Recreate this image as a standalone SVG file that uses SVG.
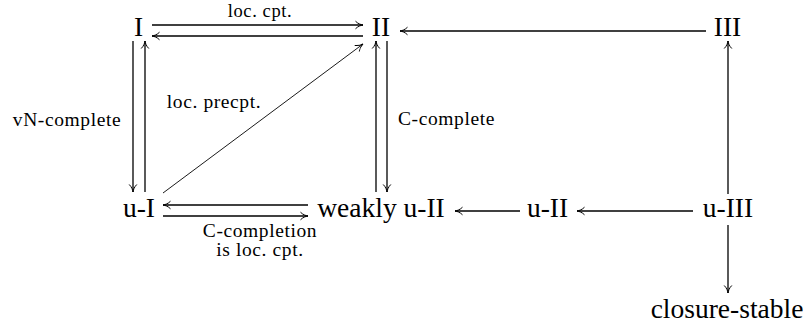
<svg xmlns="http://www.w3.org/2000/svg" width="809" height="329" viewBox="0 0 809 329">
<style>
text{font-family:"Liberation Serif","Times New Roman",serif;fill:#000}
.n{font-size:27.5px;text-anchor:middle}
.l{font-family:"Liberation Serif","Times New Roman",serif;font-size:19.5px;letter-spacing:0.6px;text-anchor:middle}
.e{stroke:#000;stroke-width:1.3;fill:none;marker-end:url(#ah)}
.d{stroke:#000;stroke-width:0.9;fill:none;marker-end:url(#ah)}
</style>
<defs>
<marker id="ah" markerUnits="userSpaceOnUse" markerWidth="14" markerHeight="12" viewBox="-9 -6 10 12" refX="0" refY="0" orient="auto">
<path d="M-7.5,-3.8 C-5,-1.2 -2,-0.3 0,0 C-2,0.3 -5,1.2 -7.5,3.8" fill="none" stroke="#000" stroke-width="1"/>
</marker>
</defs>
<g id="connectors">
<line class="e" x1="152" y1="25" x2="363" y2="25"/>
<line class="e" x1="363" y1="36" x2="152" y2="36"/>
<line class="e" x1="706" y1="31" x2="400" y2="31"/>
<line class="e" x1="133" y1="41" x2="133" y2="192"/>
<line class="e" x1="145" y1="192" x2="145" y2="41"/>
<line class="e" x1="376" y1="192" x2="376" y2="41"/>
<line class="e" x1="387" y1="41" x2="387" y2="192"/>
<line class="d" x1="163" y1="193" x2="363" y2="44"/>
<line class="e" x1="308" y1="205" x2="163" y2="205"/>
<line class="e" x1="163" y1="216" x2="308" y2="216"/>
<line class="e" x1="520" y1="211" x2="455" y2="211"/>
<line class="e" x1="693" y1="211" x2="577" y2="211"/>
<line class="e" x1="728" y1="194" x2="728" y2="41"/>
<line class="e" x1="728" y1="225" x2="728" y2="293"/>
<text class="l" x="260" y="17" style="font-size:18.5px">loc. cpt.</text>
<text class="l" x="214" y="108">loc. precpt.</text>
<text class="l" x="67" y="126">vN-complete</text>
<text class="l" x="446.5" y="125">C-complete</text>
<text class="l" x="260" y="237">C-completion</text>
<text class="l" x="260" y="256">is loc. cpt.</text>
</g>
<g id="node-I"><text class="n" x="138.5" y="36">I</text></g>
<g id="node-II"><text class="n" x="381" y="36">II</text></g>
<g id="node-III"><text class="n" x="727.5" y="36">III</text></g>
<g id="node-uI"><text class="n" x="139" y="217">u-I</text></g>
<g id="node-weakly-uII"><text class="n" x="381" y="217">weakly u-II</text></g>
<g id="node-uII"><text class="n" x="547.5" y="217">u-II</text></g>
<g id="node-uIII"><text class="n" x="728" y="217">u-III</text></g>
<g id="node-closure-stable"><text class="n" x="727" y="318">closure-stable</text></g>
</svg>
